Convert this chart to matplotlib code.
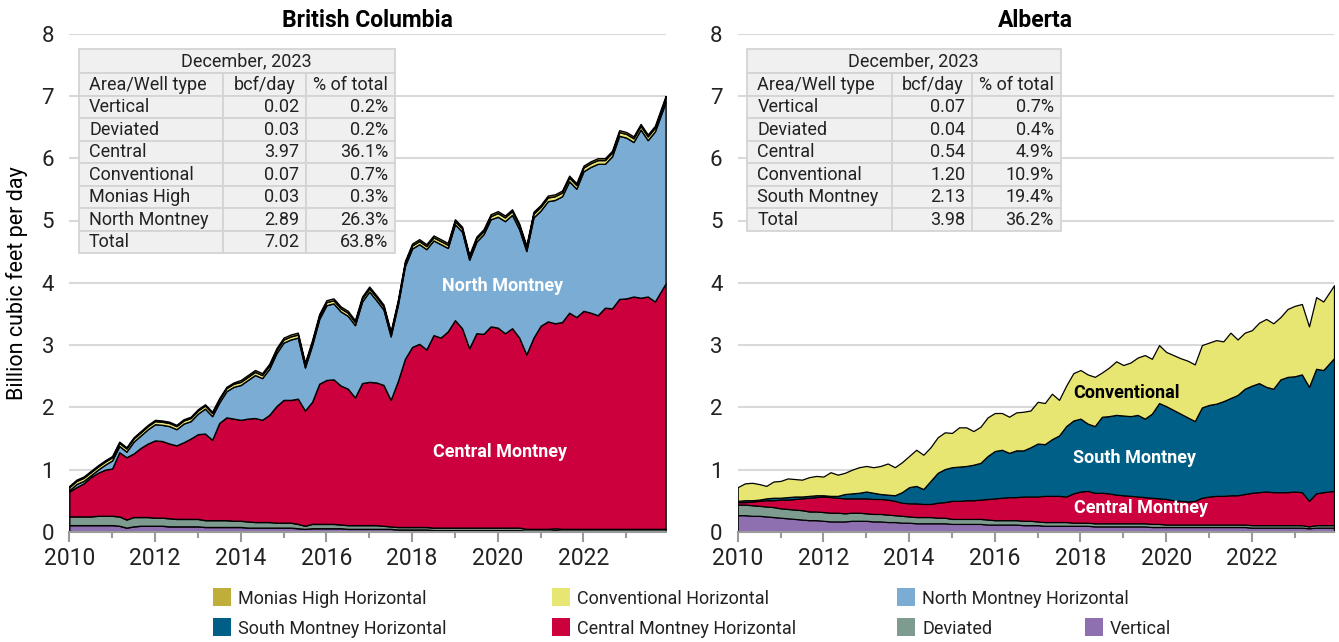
#!/usr/bin/env python3
"""Montney gas production by area / well type, BC vs Alberta."""
import matplotlib
matplotlib.use('Agg')
import matplotlib.pyplot as plt
from matplotlib.patches import Rectangle
from matplotlib.ticker import MultipleLocator
import numpy as np

plt.rcParams['font.family'] = ['Roboto', 'DejaVu Sans']

W, H = 1339, 642

# bi-monthly samples, last one is December 2023
months = list(range(0, 166, 2)) + [167]
x = 2010 + np.array(months) / 12.0

# ---------------- British Columbia (bcf/day, layer values) ----------------
bc_vertical = [0.11, 0.11, 0.11, 0.11, 0.11, 0.11, 0.11, 0.10, 0.07, 0.09, 0.10, 0.10,
               0.10, 0.10, 0.09, 0.09, 0.09, 0.09, 0.09, 0.08, 0.08, 0.08, 0.08, 0.08,
               0.08, 0.07, 0.07, 0.07, 0.07, 0.07, 0.07, 0.07, 0.06, 0.05, 0.06, 0.06,
               0.06, 0.06, 0.06, 0.05, 0.05, 0.05, 0.05, 0.05, 0.05, 0.05, 0.04, 0.04,
               0.04, 0.04, 0.04, 0.03, 0.03, 0.03, 0.03, 0.03, 0.03, 0.03, 0.03, 0.03,
               0.03, 0.03, 0.03, 0.03, 0.02, 0.02, 0.02, 0.02, 0.03, 0.02, 0.02, 0.02,
               0.02, 0.02, 0.02, 0.02, 0.02, 0.02, 0.02, 0.02, 0.02, 0.02, 0.02, 0.02]
bc_deviated = [0.14, 0.14, 0.14, 0.14, 0.15, 0.15, 0.15, 0.15, 0.13, 0.15, 0.14, 0.14,
               0.13, 0.13, 0.13, 0.12, 0.12, 0.12, 0.12, 0.11, 0.11, 0.11, 0.11, 0.10,
               0.10, 0.10, 0.09, 0.09, 0.09, 0.08, 0.08, 0.08, 0.07, 0.05, 0.07, 0.07,
               0.07, 0.07, 0.06, 0.06, 0.06, 0.06, 0.06, 0.06, 0.05, 0.04, 0.04, 0.04,
               0.04, 0.04, 0.04, 0.04, 0.04, 0.04, 0.04, 0.04, 0.04, 0.04, 0.04, 0.04,
               0.04, 0.04, 0.04, 0.04, 0.03, 0.03, 0.03, 0.03, 0.03, 0.03, 0.03, 0.03,
               0.03, 0.03, 0.03, 0.03, 0.03, 0.03, 0.03, 0.03, 0.03, 0.03, 0.03, 0.03]
bc_central = [0.40, 0.47, 0.53, 0.63, 0.69, 0.74, 0.76, 1.03, 1.00, 1.02, 1.11, 1.18,
              1.24, 1.23, 1.20, 1.18, 1.23, 1.29, 1.36, 1.39, 1.29, 1.56, 1.65, 1.64,
              1.62, 1.65, 1.67, 1.64, 1.72, 1.87, 1.97, 1.97, 2.01, 1.85, 1.96, 2.25,
              2.31, 2.32, 2.23, 2.19, 2.05, 2.28, 2.30, 2.29, 2.26, 2.03, 2.34, 2.70,
              2.89, 2.94, 2.85, 3.09, 3.05, 3.15, 3.33, 3.20, 2.88, 3.12, 3.11, 3.23,
              3.21, 3.12, 3.20, 3.05, 2.80, 3.07, 3.26, 3.33, 3.29, 3.32, 3.47, 3.40,
              3.50, 3.47, 3.43, 3.55, 3.54, 3.69, 3.70, 3.73, 3.71, 3.73, 3.65, 3.94]
bc_north = [0.02, 0.05, 0.04, 0.03, 0.05, 0.08, 0.13, 0.10, 0.09, 0.19, 0.20, 0.23,
            0.26, 0.26, 0.28, 0.26, 0.30, 0.28, 0.33, 0.40, 0.38, 0.33, 0.42, 0.51,
            0.56, 0.62, 0.69, 0.67, 0.74, 0.85, 0.92, 0.97, 0.98, 0.69, 0.91, 1.04,
            1.20, 1.22, 1.19, 1.17, 1.16, 1.31, 1.45, 1.32, 1.21, 1.02, 1.22, 1.49,
            1.58, 1.60, 1.61, 1.52, 1.50, 1.34, 1.54, 1.55, 1.42, 1.47, 1.60, 1.72,
            1.78, 1.80, 1.82, 1.74, 1.66, 1.93, 1.85, 1.93, 1.98, 2.02, 2.11, 2.06,
            2.24, 2.34, 2.43, 2.31, 2.44, 2.62, 2.58, 2.48, 2.70, 2.51, 2.73, 2.91]
bc_conventional = [0.05, 0.05, 0.05, 0.05, 0.05, 0.05, 0.05, 0.05, 0.05, 0.05, 0.05, 0.05,
                   0.05, 0.05, 0.05, 0.05, 0.05, 0.05, 0.05, 0.05, 0.05, 0.05, 0.05, 0.05,
                   0.05, 0.05, 0.05, 0.05, 0.05, 0.05, 0.05, 0.05, 0.05, 0.05, 0.05, 0.05,
                   0.05, 0.05, 0.05, 0.05, 0.05, 0.05, 0.05, 0.05, 0.05, 0.05, 0.05, 0.05,
                   0.05, 0.05, 0.05, 0.05, 0.05, 0.05, 0.05, 0.05, 0.05, 0.05, 0.05, 0.05,
                   0.06, 0.06, 0.06, 0.06, 0.06, 0.06, 0.06, 0.06, 0.06, 0.06, 0.06, 0.06,
                   0.06, 0.06, 0.06, 0.06, 0.06, 0.06, 0.06, 0.06, 0.06, 0.06, 0.06, 0.07]
bc_monias = [0.02, 0.02, 0.02, 0.02, 0.02, 0.02, 0.02, 0.02, 0.02, 0.02, 0.02, 0.02,
             0.02, 0.02, 0.02, 0.02, 0.02, 0.02, 0.02, 0.02, 0.02, 0.02, 0.02, 0.02,
             0.03, 0.03, 0.03, 0.03, 0.03, 0.03, 0.03, 0.03, 0.03, 0.03, 0.03, 0.03,
             0.03, 0.03, 0.03, 0.03, 0.03, 0.03, 0.03, 0.03, 0.03, 0.03, 0.03, 0.03,
             0.03, 0.03, 0.03, 0.03, 0.03, 0.03, 0.03, 0.03, 0.03, 0.03, 0.03, 0.03,
             0.03, 0.03, 0.03, 0.03, 0.03, 0.03, 0.03, 0.03, 0.03, 0.03, 0.03, 0.03,
             0.03, 0.03, 0.03, 0.03, 0.03, 0.03, 0.03, 0.03, 0.03, 0.03, 0.03, 0.03]

# ---------------- Alberta (bcf/day, layer values) ----------------
ab_vertical = [0.27, 0.27, 0.26, 0.26, 0.25, 0.24, 0.23, 0.22, 0.21, 0.20, 0.19, 0.19,
               0.18, 0.17, 0.17, 0.17, 0.18, 0.18, 0.18, 0.17, 0.17, 0.16, 0.16, 0.15,
               0.15, 0.14, 0.14, 0.14, 0.14, 0.14, 0.13, 0.13, 0.13, 0.13, 0.13, 0.12,
               0.12, 0.12, 0.12, 0.12, 0.11, 0.11, 0.11, 0.10, 0.10, 0.10, 0.10, 0.10,
               0.10, 0.10, 0.09, 0.09, 0.09, 0.09, 0.09, 0.09, 0.09, 0.09, 0.08, 0.08,
               0.08, 0.08, 0.08, 0.08, 0.08, 0.08, 0.08, 0.08, 0.08, 0.08, 0.08, 0.08,
               0.07, 0.07, 0.07, 0.07, 0.07, 0.07, 0.07, 0.07, 0.06, 0.07, 0.07, 0.07]
ab_deviated = [0.17, 0.17, 0.17, 0.16, 0.16, 0.16, 0.15, 0.15, 0.15, 0.15, 0.14, 0.14,
               0.14, 0.14, 0.14, 0.13, 0.13, 0.13, 0.12, 0.12, 0.12, 0.12, 0.11, 0.11,
               0.10, 0.10, 0.10, 0.10, 0.09, 0.09, 0.08, 0.08, 0.08, 0.08, 0.08, 0.08,
               0.07, 0.07, 0.07, 0.07, 0.07, 0.07, 0.06, 0.06, 0.06, 0.06, 0.06, 0.05,
               0.05, 0.05, 0.05, 0.05, 0.05, 0.05, 0.05, 0.05, 0.05, 0.05, 0.05, 0.05,
               0.04, 0.04, 0.04, 0.04, 0.04, 0.04, 0.04, 0.04, 0.04, 0.04, 0.04, 0.04,
               0.04, 0.04, 0.04, 0.04, 0.04, 0.04, 0.04, 0.04, 0.03, 0.04, 0.04, 0.04]
ab_central = [0.04, 0.04, 0.06, 0.08, 0.10, 0.11, 0.14, 0.15, 0.17, 0.19, 0.22, 0.23,
              0.25, 0.25, 0.24, 0.24, 0.23, 0.23, 0.24, 0.24, 0.24, 0.24, 0.23, 0.21,
              0.21, 0.22, 0.21, 0.21, 0.24, 0.25, 0.29, 0.29, 0.30, 0.30, 0.31, 0.33,
              0.35, 0.36, 0.37, 0.37, 0.39, 0.39, 0.40, 0.42, 0.42, 0.42, 0.41, 0.47,
              0.50, 0.51, 0.49, 0.49, 0.48, 0.46, 0.45, 0.44, 0.43, 0.42, 0.42, 0.41,
              0.41, 0.39, 0.38, 0.37, 0.38, 0.43, 0.45, 0.46, 0.46, 0.47, 0.47, 0.49,
              0.52, 0.53, 0.54, 0.53, 0.53, 0.53, 0.54, 0.53, 0.41, 0.51, 0.53, 0.55]
ab_south = [0.02, 0.03, 0.02, 0.02, 0.03, 0.04, 0.03, 0.04, 0.04, 0.03, 0.03, 0.03,
            0.02, 0.02, 0.03, 0.07, 0.08, 0.09, 0.11, 0.10, 0.08, 0.08, 0.09, 0.17,
            0.26, 0.28, 0.24, 0.37, 0.48, 0.53, 0.54, 0.55, 0.55, 0.57, 0.59, 0.69,
            0.76, 0.77, 0.71, 0.75, 0.74, 0.79, 0.85, 0.83, 0.91, 0.97, 1.13, 1.17,
            1.17, 1.08, 1.07, 1.22, 1.24, 1.28, 1.28, 1.28, 1.31, 1.26, 1.35, 1.53,
            1.49, 1.45, 1.40, 1.35, 1.28, 1.45, 1.47, 1.48, 1.52, 1.56, 1.61, 1.69,
            1.72, 1.75, 1.68, 1.66, 1.81, 1.85, 1.85, 1.89, 1.83, 2.00, 1.96, 2.13]
ab_conventional = [0.22, 0.27, 0.28, 0.25, 0.20, 0.26, 0.27, 0.30, 0.28, 0.27, 0.30, 0.31,
                   0.30, 0.38, 0.34, 0.34, 0.38, 0.41, 0.41, 0.41, 0.45, 0.50, 0.45, 0.48,
                   0.50, 0.58, 0.55, 0.54, 0.57, 0.59, 0.55, 0.63, 0.62, 0.54, 0.58, 0.62,
                   0.61, 0.59, 0.58, 0.61, 0.62, 0.59, 0.67, 0.66, 0.73, 0.57, 0.65, 0.76,
                   0.78, 0.79, 0.79, 0.71, 0.78, 0.86, 0.81, 0.86, 0.92, 1.02, 0.88, 0.93,
                   0.87, 0.88, 0.89, 0.91, 0.91, 1.00, 1.00, 1.02, 0.96, 1.05, 0.89, 0.90,
                   0.89, 0.97, 1.09, 1.05, 1.00, 1.09, 1.13, 1.13, 0.97, 1.15, 1.10, 1.17]

# December 2023 summary tables
table_header = ['Area/Well type', 'bcf/day', '% of total']
bc_table = [['Vertical', '0.02', '0.2%'],
            ['Deviated', '0.03', '0.2%'],
            ['Central', '3.97', '36.1%'],
            ['Conventional', '0.07', '0.7%'],
            ['Monias High', '0.03', '0.3%'],
            ['North Montney', '2.89', '26.3%'],
            ['Total', '7.02', '63.8%']]
ab_table = [['Vertical', '0.07', '0.7%'],
            ['Deviated', '0.04', '0.4%'],
            ['Central', '0.54', '4.9%'],
            ['Conventional', '1.20', '10.9%'],
            ['South Montney', '2.13', '19.4%'],
            ['Total', '3.98', '36.2%']]

COLORS = {
    'monias': '#C0AE3A',
    'conventional': '#E8E673',
    'north': '#7BACD3',
    'south': '#005F86',
    'central': '#CC003D',
    'deviated': '#7D9C8F',
    'vertical': '#8E6FB0',
}

fig = plt.figure(figsize=(W / 100, H / 100), dpi=100)
ax1 = fig.add_axes([69.3 / W, 110 / H, 596.3 / W, 498.4 / H])
ax2 = fig.add_axes([737.7 / W, 110 / H, 596.3 / W, 498.4 / H])

ax1.stackplot(x, [bc_vertical, bc_deviated, bc_central, bc_north, bc_conventional, bc_monias],
              colors=[COLORS[k] for k in ['vertical', 'deviated', 'central', 'north', 'conventional', 'monias']],
              edgecolor='black', linewidth=1.0)
ax2.stackplot(x, [ab_vertical, ab_deviated, ab_central, ab_south, ab_conventional],
              colors=[COLORS[k] for k in ['vertical', 'deviated', 'central', 'south', 'conventional']],
              edgecolor='black', linewidth=0.9)

for ax, title in [(ax1, 'British Columbia'), (ax2, 'Alberta')]:
    ax.set_xlim(2010, 2010 + 167 / 12.0)
    ax.set_ylim(0, 8)
    ax.set_axisbelow(True)
    ax.yaxis.grid(True, color='#d9d9d9', linewidth=1.5)
    for s in ['top', 'right', 'left']:
        ax.spines[s].set_visible(False)
    ax.spines['bottom'].set_color('#9a9a9a')
    ax.spines['bottom'].set_linewidth(1.5)
    ax.xaxis.set_major_locator(MultipleLocator(2))
    ax.xaxis.set_minor_locator(MultipleLocator(1))
    ax.yaxis.set_major_locator(MultipleLocator(1))
    ax.tick_params(axis='y', length=0, pad=11, labelsize=16, labelcolor='#222222')
    ax.tick_params(axis='x', which='major', length=7, width=1.5, color='#9a9a9a',
                   labelsize=16.5, pad=4, labelcolor='#222222')
    ax.tick_params(axis='x', which='minor', length=4, width=1.5, color='#9a9a9a')
    ax.set_title(title, fontsize=16.5, fontweight='bold', pad=5)

ax1.set_ylabel('Billion cubic feet per day', fontsize=15.5, labelpad=10)

# in-chart labels
ax1.text(2020.1, 3.95, 'North Montney', color='white', fontsize=13, fontweight='bold', ha='center', va='center')
ax1.text(2020.05, 1.28, 'Central Montney', color='white', fontsize=13, fontweight='bold', ha='center', va='center')
ax2.text(2019.08, 2.23, 'Conventional', color='black', fontsize=13, fontweight='bold', ha='center', va='center')
ax2.text(2019.27, 1.19, 'South Montney', color='white', fontsize=13, fontweight='bold', ha='center', va='center')
ax2.text(2019.41, 0.38, 'Central Montney', color='white', fontsize=13, fontweight='bold', ha='center', va='center')


def draw_table(left, top, col_w, title_h, row_h, title, rows):
    def cell(px, py, w, h):
        fig.add_artist(Rectangle((px / W, 1 - (py + h) / H), w / W, h / H,
                                 transform=fig.transFigure, facecolor='#f0f0f0',
                                 edgecolor='#d4d4d4', linewidth=1.3))
    total_w = sum(col_w)
    cell(left, top, total_w, title_h)
    fig.text((left + total_w / 2 + 9) / W, 1 - (top + title_h / 2) / H, title,
             ha='center', va='center', fontsize=13, color='#222222')
    py = top + title_h
    for r, row in enumerate([table_header] + rows):
        px = left
        for c, (val, w) in enumerate(zip(row, col_w)):
            cell(px, py, w, row_h)
            ty = 1 - (py + row_h / 2) / H
            if c == 0:
                fig.text((px + 10) / W, ty, val, ha='left', va='center', fontsize=13, color='#222222')
            elif r == 0:
                fig.text((px + w / 2) / W, ty, val, ha='center', va='center', fontsize=13, color='#222222')
            else:
                fig.text((px + w - 7) / W, ty, val, ha='right', va='center', fontsize=13, color='#222222')
            px += w
        py += row_h


draw_table(79, 49.3, [144, 83, 89], 24, 22.5, 'December, 2023', bc_table)
draw_table(747.3, 49.3, [145, 80, 88.5], 24, 22.5, 'December, 2023', ab_table)

# legend
legend_items = [('Monias High Horizontal', 'monias', 213, 597),
                ('Conventional Horizontal', 'conventional', 552, 597),
                ('North Montney Horizontal', 'north', 897, 597),
                ('South Montney Horizontal', 'south', 213, 627),
                ('Central Montney Horizontal', 'central', 552, 627),
                ('Deviated', 'deviated', 897, 627),
                ('Vertical', 'vertical', 1085, 627)]
for label, key, lx, ly in legend_items:
    fig.add_artist(Rectangle((lx / W, 1 - (ly + 9) / H), 18 / W, 18 / H,
                             transform=fig.transFigure, facecolor=COLORS[key], edgecolor='none'))
    fig.text((lx + 25) / W, 1 - (ly + 2) / H, label, ha='left', va='center', fontsize=13, color='#222222')

fig.savefig('out.png', dpi=100)
